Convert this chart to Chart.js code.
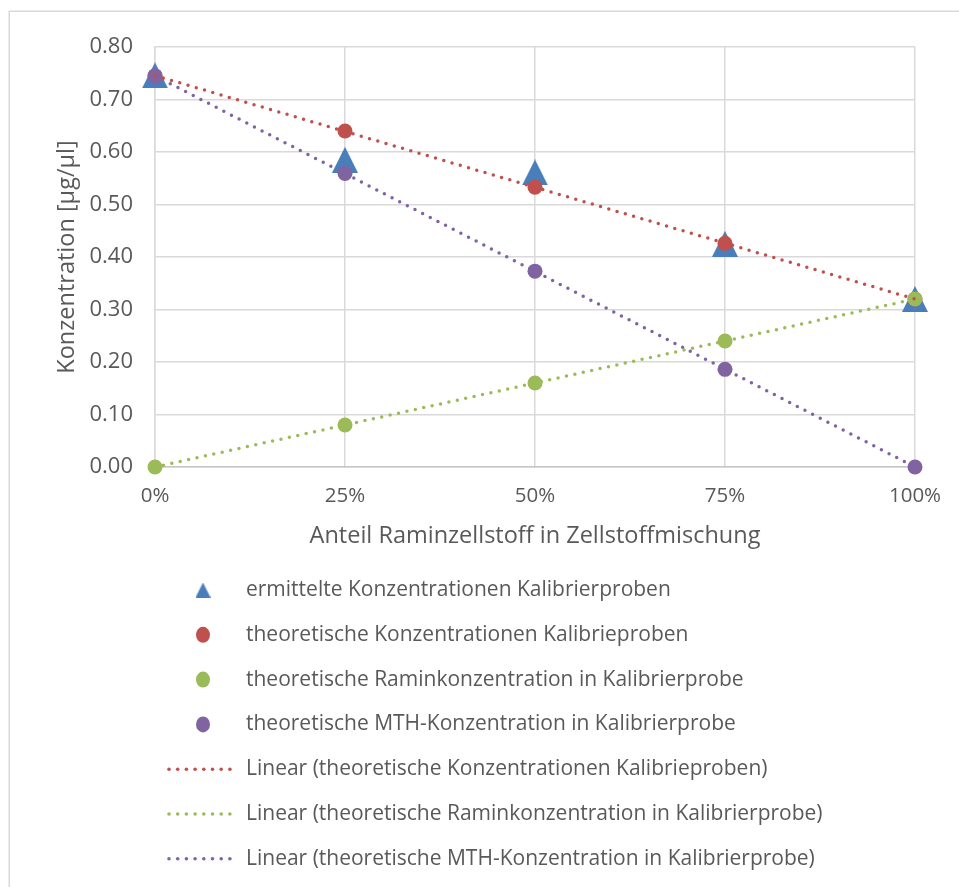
<!DOCTYPE html>
<html lang="de">
<head>
<meta charset="utf-8">
<title>Konzentration Kalibrierproben</title>
<script src="https://cdn.jsdelivr.net/npm/chart.js@4/dist/chart.umd.min.js"></script>
<style>
  html, body { margin: 0; padding: 0; background: #ffffff; }
  #wrap { width: 959px; height: 887px; }
</style>
</head>
<body>
<div id="wrap"><canvas id="chart" width="959" height="887"></canvas></div>
<script>
// Anteil Raminzellstoff (0 … 1 = 0 % … 100 %)
const anteil = [0, 0.25, 0.5, 0.75, 1];

// Messwerte und theoretische Werte [µg/µl]
const ermittelteKonz = [0.746, 0.585, 0.561, 0.425, 0.320];
const theoKonz       = [0.745, 0.640, 0.533, 0.426, 0.320];
const theoRamin      = [0.000, 0.080, 0.160, 0.240, 0.320];
const theoMTH        = [0.745, 0.559, 0.373, 0.186, 0.000];

const xTicks = [0, 0.25, 0.5, 0.75, 1];
const yTicks = [0, 0.1, 0.2, 0.3, 0.4, 0.5, 0.6, 0.7, 0.8];

const legendLabels = [
  'ermittelte Konzentrationen Kalibrierproben',
  'theoretische Konzentrationen Kalibrieproben',
  'theoretische Raminkonzentration in Kalibrierprobe',
  'theoretische MTH-Konzentration in Kalibrierprobe',
  'Linear (theoretische Konzentrationen Kalibrieproben)',
  'Linear (theoretische Raminkonzentration in Kalibrierprobe)',
  'Linear (theoretische MTH-Konzentration in Kalibrierprobe)'
];

const BLUE = '#4a7ebb', RED = '#c0504d', GREEN = '#9bbb59', PURPLE = '#8064a2';
const TEXT = '#595959', GRID = '#d9d9d9';
const FONT = '"Open Sans", Lato, sans-serif';

// least-squares trend line through the given series, evaluated at the first and last x
function trend(xs, ys) {
  const n = xs.length;
  const mx = xs.reduce((a, b) => a + b, 0) / n;
  const my = ys.reduce((a, b) => a + b, 0) / n;
  let sxy = 0, sxx = 0;
  for (let i = 0; i < n; i++) { sxy += (xs[i] - mx) * (ys[i] - my); sxx += (xs[i] - mx) ** 2; }
  const b = sxy / sxx, a = my - b * mx;
  const x0 = Math.min(...xs), x1 = Math.max(...xs);
  return [{ x: x0, y: a + b * x0 }, { x: x1, y: a + b * x1 }];
}

const pts = ys => anteil.map((x, i) => ({ x, y: ys[i] }));

// centred triangle marker
function triangleMarker(size, color) {
  const c = document.createElement('canvas');
  c.width = size; c.height = size;
  const g = c.getContext('2d');
  g.fillStyle = color;
  g.beginPath();
  g.moveTo(size / 2, 0);
  g.lineTo(size, size);
  g.lineTo(0, size);
  g.closePath();
  g.fill();
  return c;
}
const triBig = triangleMarker(26, BLUE);
const triSmall = triangleMarker(15, BLUE);

const dotted = { borderWidth: 3.5, borderDash: [0, 8.6], borderCapStyle: 'round', pointRadius: 0, showLine: true, fill: false, clip: false };
const marker = { pointStyle: 'circle', pointRadius: 7.5, borderWidth: 0, clip: false };

const datasets = [
  { label: legendLabels[0], data: pts(ermittelteKonz), pointStyle: triBig, backgroundColor: BLUE, borderColor: BLUE, order: 4, clip: false, legendKind: 'tri' },
  Object.assign({ label: legendLabels[1], data: pts(theoKonz), backgroundColor: RED, borderColor: RED, order: 3, legendKind: 'dot' }, marker),
  Object.assign({ label: legendLabels[2], data: pts(theoRamin), backgroundColor: GREEN, borderColor: GREEN, order: 2, legendKind: 'dot' }, marker),
  Object.assign({ label: legendLabels[3], data: pts(theoMTH), backgroundColor: PURPLE, borderColor: PURPLE, order: 1, legendKind: 'dot' }, marker),
  Object.assign({ label: legendLabels[4], data: trend(anteil, theoKonz), borderColor: RED, backgroundColor: RED, order: 0, legendKind: 'line' }, dotted),
  Object.assign({ label: legendLabels[5], data: trend(anteil, theoRamin), borderColor: GREEN, backgroundColor: GREEN, order: 0, legendKind: 'line' }, dotted),
  Object.assign({ label: legendLabels[6], data: trend(anteil, theoMTH), borderColor: PURPLE, backgroundColor: PURPLE, order: 0, legendKind: 'line' }, dotted)
];

// outer frame of the chart object
const framePlugin = {
  id: 'frame',
  beforeDraw(chart) {
    const ctx = chart.ctx;
    ctx.save();
    ctx.fillStyle = '#ffffff';
    ctx.fillRect(0, 0, chart.width, chart.height);
    ctx.strokeStyle = GRID;
    ctx.lineWidth = 1.5;
    ctx.strokeRect(9.25, 11.25, chart.width + 20, chart.height + 20);
    ctx.restore();
  }
};

// vertical legend below the plot
const listLegend = {
  id: 'listLegend',
  afterDraw(chart) {
    const ctx = chart.ctx;
    const top = 590, step = 44.8, symX = 203, textX = 246;
    ctx.save();
    ctx.font = '21px ' + FONT;
    ctx.textBaseline = 'middle';
    ctx.textAlign = 'left';
    chart.data.datasets.forEach((ds, i) => {
      const y = top + i * step;
      if (ds.legendKind === 'tri') {
        ctx.drawImage(triSmall, symX - 7.5, y - 7.5);
      } else if (ds.legendKind === 'dot') {
        ctx.fillStyle = ds.backgroundColor;
        ctx.beginPath();
        ctx.ellipse(symX, y, 7, 8, 0, 0, Math.PI * 2);
        ctx.fill();
      } else {
        ctx.fillStyle = ds.borderColor;
        for (let k = 0; k < 8; k++) {
          ctx.beginPath();
          ctx.arc(169 + k * 8.7, y, 1.8, 0, Math.PI * 2);
          ctx.fill();
        }
      }
      ctx.fillStyle = TEXT;
      ctx.fillText(ds.label, textX, y);
    });
    ctx.restore();
  }
};

new Chart(document.getElementById('chart'), {
  type: 'scatter',
  data: { datasets },
  options: {
    responsive: false,
    animation: false,
    devicePixelRatio: 1,
    layout: { padding: { left: 50, top: 47, right: 44, bottom: 334 } },
    plugins: { legend: { display: false }, tooltip: { enabled: false } },
    scales: {
      x: {
        type: 'linear',
        min: 0, max: 1,
        afterFit(scale) { scale.height = 86; },
        afterBuildTicks(scale) { scale.ticks = xTicks.map(v => ({ value: v })); },
        ticks: {
          padding: 17,
          color: TEXT,
          font: { family: FONT, size: 20.5 },
          callback: v => Math.round(v * 100) + '%'
        },
        grid: { color: GRID, lineWidth: 1.5, drawTicks: false },
        border: { color: '#c6c6c6', width: 1.5 },
        title: {
          display: true,
          text: 'Anteil Raminzellstoff in Zellstoffmischung',
          color: TEXT,
          font: { family: FONT, size: 23.5 },
          padding: { top: 4, bottom: 3 }
        }
      },
      y: {
        type: 'linear',
        min: 0, max: 0.8,
        afterFit(scale) { scale.width = 105; },
        afterBuildTicks(scale) { scale.ticks = yTicks.map(v => ({ value: v })); },
        ticks: {
          padding: 22,
          color: TEXT,
          font: { family: FONT, size: 22 },
          callback: v => v.toFixed(2)
        },
        grid: { color: GRID, lineWidth: 1.5, drawTicks: false },
        border: { color: GRID, width: 1.5 },
        title: {
          display: true,
          text: 'Konzentration [µg/µl]',
          color: TEXT,
          font: { family: FONT, size: 23.5 },
          padding: { top: 3, bottom: 4 }
        }
      }
    }
  },
  plugins: [framePlugin, listLegend]
});
</script>
</body>
</html>
